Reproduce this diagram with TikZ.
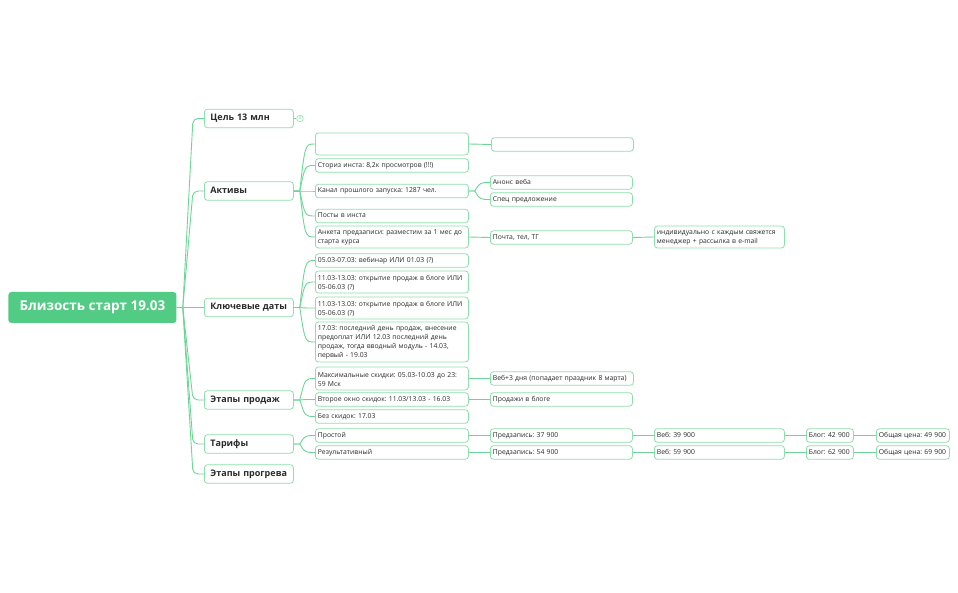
\documentclass[tikz,border=0pt]{standalone}
\usepackage{fontspec}
\setmainfont{Open Sans}
\frenchspacing

\definecolor{mmgreen}{HTML}{52CB84}
\definecolor{mmline}{HTML}{6FD597}
\definecolor{mmborder}{HTML}{8EDFAD}
\definecolor{mmtext}{HTML}{2A2A2A}

\tikzset{
  box/.style={draw=mmborder, line width=0.8pt, rounded corners=3pt, fill=white, text=mmtext, anchor=west, align=left, inner ysep=0pt, execute at begin node=\strut},
  central/.style={box, draw=none, fill=mmgreen, text=white, align=center, minimum width=168pt, minimum height=31pt, inner xsep=0pt, font=\bfseries\fontsize{13.5}{15}\selectfont},
  maintopic/.style={box, text width=77pt, inner xsep=6pt, minimum height=18.5pt, font=\bfseries\fontsize{9}{11}\selectfont},
  subtopic/.style={box, text width=#1, inner xsep=2.5pt, minimum height=13.5pt, font=\fontsize{6.8}{9}\selectfont},
  subtopic/.default=148pt,
  marker/.style={circle, draw=mmborder, line width=0.6pt, fill=white, inner sep=0pt, minimum size=6.5pt, text=mmline, font=\fontsize{4}{4}\selectfont},
  link/.style={draw=mmline, line width=0.9pt},
}

\begin{document}
\begin{tikzpicture}[x=1pt,y=-1pt]
\fill[white] (0,0) rectangle (958,593);

\node[central] (root) at (8,307.5) {Близость старт 19.03};

\node[maintopic] (goal) at (204,118.5) {Цель 13 млн};
\node[maintopic] (assets) at (204,191) {Активы};
\node[maintopic] (dates) at (204,307.5) {Ключевые даты};
\node[maintopic] (sales) at (204,400) {Этапы продаж};
\node[maintopic] (tariffs) at (204,444) {Тарифы};
\node[maintopic] (warmup) at (204,474) {Этапы прогрева};
\node[marker] (goalmore) at (300,118.5) {4};

\node[subtopic, minimum height=22pt] (a1) at (315,144) {};
\node[subtopic] (a2) at (315,165.5) {Сториз инста: 8,2к просмотров (!!!)};
\node[subtopic] (a3) at (315,191) {Канал прошлого запуска: 1287 чел.};
\node[subtopic] (a4) at (315,216) {Посты в инста};
\node[subtopic, minimum height=22pt] (a5) at (315,237) {Анкета предзаписи: разместим за 1 мес до\\старта курса};
\node[subtopic] (d1) at (315,260.5) {05.03-07.03: вебинар ИЛИ 01.03 (?)};
\node[subtopic, minimum height=22pt] (d2) at (315,282) {11.03-13.03: открытие продаж в блоге ИЛИ\\05-06.03 (?)};
\node[subtopic, minimum height=22pt] (d3) at (315,308) {11.03-13.03: открытие продаж в блоге ИЛИ\\05-06.03 (?)};
\node[subtopic, minimum height=40pt] (d4) at (315,342) {17.03: последний день продаж, внесение\\предоплат ИЛИ 12.03 последний день\\продаж, тогда вводный модуль - 14.03,\\первый - 19.03};
\node[subtopic, minimum height=23pt] (s1) at (315,378.5) {Максимальные скидки: 05.03-10.03 до 23:\\59 Мск};
\node[subtopic] (s2) at (315,399.5) {Второе окно скидок: 11.03/13.03 - 16.03};
\node[subtopic] (s3) at (315,416.5) {Без скидок: 17.03};
\node[subtopic] (t1) at (315,435.5) {Простой};
\node[subtopic] (t2) at (315,452.5) {Результативный};

\node[subtopic=137pt] (a1b) at (491,144.5) {};
\node[subtopic=137pt] (a3b) at (490,182.5) {Анонс веба};
\node[subtopic=137pt] (a3c) at (490,199.5) {Спец предложение};
\node[subtopic=137pt] (a5b) at (490,237.5) {Почта, тел, ТГ};
\node[subtopic=138pt] (s1b) at (490,378.5) {Веб+3 дня (попадает праздник 8 марта)};
\node[subtopic=137pt] (s2b) at (490,399.5) {Продажи в блоге};
\node[subtopic=137pt] (t1b) at (490,435.5) {Предзапись: 37 900};
\node[subtopic=137pt] (t2b) at (490,452.5) {Предзапись: 54 900};

\node[subtopic=125pt, minimum height=22pt] (a5c) at (654,237) {индивидуально с каждым свяжется\\менеджер + рассылка в e-mail};
\node[subtopic=125pt] (t1c) at (654,435.5) {Веб: 39 900};
\node[subtopic=125pt] (t2c) at (654,452.5) {Веб: 59 900};
\node[subtopic=42pt] (t1d) at (806,435.5) {\mbox{Блог: 42 900}};
\node[subtopic=42pt] (t2d) at (806,452.5) {\mbox{Блог: 62 900}};
\node[subtopic=68pt] (t1e) at (876,435.5) {\mbox{Общая цена: 49 900}};
\node[subtopic=68pt] (t2e) at (876,452.5) {\mbox{Общая цена: 69 900}};

% root to main topics
\foreach \n in {goal,assets,dates,sales,tariffs,warmup}
  \draw[link] (root.east) -- ++(6,0) [rounded corners=5pt] -- ([xshift=-11pt]\n.west) -- (\n.west);

% fans
\foreach \p/\c in {assets/a1,assets/a2,assets/a3,assets/a4,assets/a5,
    dates/d1,dates/d2,dates/d3,dates/d4,
    sales/s1,sales/s2,sales/s3,
    tariffs/t1,tariffs/t2,
    a3/a3b,a3/a3c}
  \draw[link] (\p.east) -- ++(6,0) .. controls ([xshift=-10pt]\c.west) .. (\c.west);

% single children
\foreach \p/\c in {goal/goalmore,a1/a1b,a5/a5b,a5b/a5c,s1/s1b,s2/s2b,
    t1/t1b,t1b/t1c,t1c/t1d,t1d/t1e,t2/t2b,t2b/t2c,t2c/t2d,t2d/t2e}
  \draw[link] (\p.east) -- (\c.west);
\end{tikzpicture}
\end{document}
